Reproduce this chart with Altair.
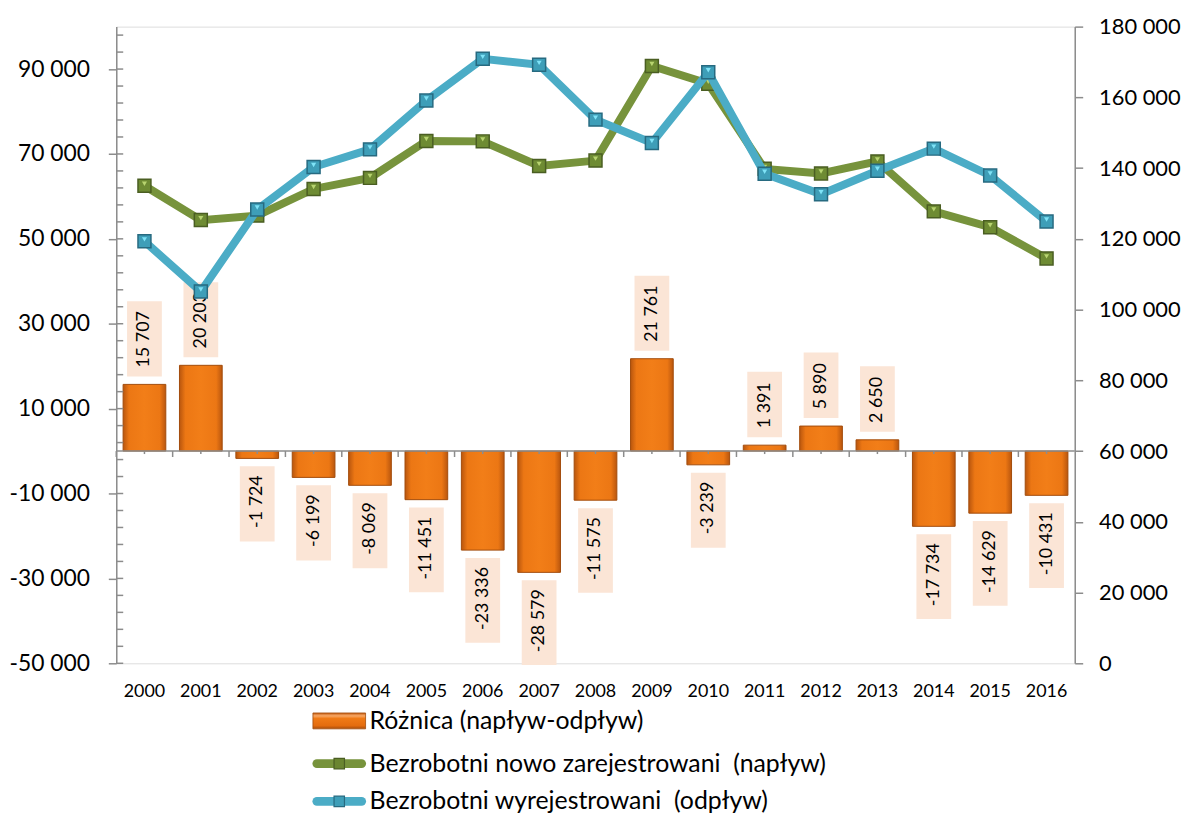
import altair as alt
import pandas as pd

# ---------------- data ----------------
years = ["2000", "2001", "2002", "2003", "2004", "2005", "2006", "2007", "2008",
         "2009", "2010", "2011", "2012", "2013", "2014", "2015", "2016"]
roznica = [15707, 20203, -1724, -6199, -8069, -11451, -23336, -28579, -11575,
           21761, -3239, 1391, 5890, 2650, -17734, -14629, -10431]
naplyw = [135007, 125303, 126576, 134101, 137231, 147649, 147564, 140621, 142125,
          168861, 163861, 139791, 138490, 141900, 127766, 123271, 114469]
odplyw = [119300, 105100, 128300, 140300, 145300, 159100, 170900, 169200, 153700,
          147100, 167100, 138400, 132600, 139250, 145500, 137900, 124900]

left_tick_values = [-50000, -30000, -10000, 10000, 30000, 50000, 70000, 90000]
left_minor_values = list(range(-50000, 100000, 4000))
right_tick_values = [0, 20000, 40000, 60000, 80000, 100000, 120000, 140000, 160000, 180000]

legend_labels = ["Różnica (napływ-odpływ)",
                 "Bezrobotni nowo zarejestrowani \u00a0(napływ)",
                 "Bezrobotni wyrejestrowani \u00a0(odpływ)"]

# ---------------- style ----------------
W, H = 965, 641
LEFT_DOMAIN = [-50000, 100000]
RIGHT_DOMAIN = [0, 180000]
PX = (LEFT_DOMAIN[1] - LEFT_DOMAIN[0]) / H
FONT = "Lato"
GREY = "#8C8C8C"
GREEN = "#77933C"
BLUE = "#4BACC6"
BOX = "#FBE5D6"

label_expr = "replace(replace(format(datum.value, ','), ',', ' '), '\u2212', '-')"
text_expr = "replace(replace(format(datum.roznica, ','), ',', ' '), '\u2212', '-')"

BAR_GRAD = {
    "gradient": "linear", "x1": 0, "x2": 1, "y1": 0, "y2": 0,
    "stops": [
        {"offset": 0, "color": "#B9560E"},
        {"offset": 0.14, "color": "#EC7714"},
        {"offset": 0.5, "color": "#F27E18"},
        {"offset": 0.86, "color": "#EC7714"},
        {"offset": 1, "color": "#B9560E"},
    ],
}
LEG_GRAD = {
    "gradient": "linear", "x1": 0, "x2": 0, "y1": 0, "y2": 1,
    "stops": [
        {"offset": 0, "color": "#C45A0F"},
        {"offset": 0.18, "color": "#F8A866"},
        {"offset": 0.35, "color": "#F07A16"},
        {"offset": 0.8, "color": "#E46C0E"},
        {"offset": 1, "color": "#A84C0A"},
    ],
}

df = pd.DataFrame({"year": years, "roznica": roznica, "naplyw": naplyw, "odplyw": odplyw})
one = pd.DataFrame({"a": [0]})
minor_df = pd.DataFrame({"v": left_minor_values})

XS = alt.Scale(type="band", paddingInner=0, paddingOuter=0)
XAXIS = alt.Axis(labelAngle=0, labelFont=FONT, labelFontSize=18, labelColor="#000000",
                 labelPadding=19, ticks=False, domain=False, grid=False, title=None)
LS = alt.Scale(domain=LEFT_DOMAIN, nice=False, zero=False)
LAXIS = alt.Axis(orient="left", values=left_tick_values, labelExpr=label_expr,
                 tickSize=8, tickColor=GREY, tickWidth=1.5, domainColor=GREY, domainWidth=1.5,
                 labelFont=FONT, labelFontSize=23, labelColor="#000000", labelPadding=19,
                 labelFlush=False, labelOverlap=False, grid=False, title=None)
RS = alt.Scale(domain=RIGHT_DOMAIN, nice=False, zero=False)
RAXIS = alt.Axis(orient="right", values=right_tick_values, labelExpr=label_expr,
                 tickSize=8, tickColor=GREY, tickWidth=1.5, domainColor=GREY, domainWidth=1.5,
                 labelFont=FONT, labelFontSize=22, labelColor="#000000", labelPadding=16,
                 labelFlush=False, labelOverlap=False, grid=False, title=None)


def xenc(band=None):
    if band is None:
        return alt.X("year:N", scale=XS, axis=XAXIS, sort=years)
    return alt.X("year:N", scale=XS, axis=XAXIS, sort=years, bandPosition=band)


base = alt.Chart(df)

bars = base.mark_bar(size=43, color=BAR_GRAD, stroke="#A24C0B", strokeWidth=1).encode(
    x=xenc(), y=alt.Y("roznica:Q", scale=LS, axis=LAXIS), y2=alt.Y2(datum=0))

boxes = (base.transform_calculate(label=text_expr)
         .transform_calculate(sgn="datum.roznica >= 0 ? 1 : -1")
         .transform_calculate(b0=f"datum.roznica + datum.sgn * 8 * {PX}")
         .transform_calculate(b1=f"datum.b0 + datum.sgn * (length(datum.label) * 9.6 + 18) * {PX}")
         .mark_bar(size=35, color=BOX)
         .encode(x=xenc(), y=alt.Y("b0:Q", scale=LS, axis=LAXIS), y2="b1:Q"))

texts_pos = (base.transform_calculate(label=text_expr)
             .transform_filter("datum.roznica >= 0")
             .mark_text(angle=270, align="left", baseline="middle", dx=17, font=FONT,
                        fontSize=18, color="#000000")
             .encode(x=xenc(), y=alt.Y("roznica:Q", scale=LS, axis=LAXIS), text="label:N"))
texts_neg = (base.transform_calculate(label=text_expr)
             .transform_filter("datum.roznica < 0")
             .mark_text(angle=270, align="right", baseline="middle", dx=-17, font=FONT,
                        fontSize=18, color="#000000")
             .encode(x=xenc(), y=alt.Y("roznica:Q", scale=LS, axis=LAXIS), text="label:N"))

zero_line = alt.Chart(one).mark_rule(color=GREY, strokeWidth=1.5).encode(
    x=alt.value(0), x2=alt.value(W), y=alt.Y(datum=0, scale=LS, axis=LAXIS))
bound_ticks = base.mark_rule(color=GREY, strokeWidth=1.5, y2Offset=6).encode(
    x=xenc(0), y=alt.Y(datum=0, scale=LS, axis=LAXIS), y2=alt.Y2(datum=0))
center_ticks = base.mark_rule(color=GREY, strokeWidth=1.5, y2Offset=3).encode(
    x=xenc(0.5), y=alt.Y(datum=0, scale=LS, axis=LAXIS), y2=alt.Y2(datum=0))
inner_ticks = alt.Chart(minor_df).mark_rule(color=GREY, strokeWidth=1.5).encode(
    x=alt.value(0), x2=alt.value(7), y=alt.Y("v:Q", scale=LS, axis=LAXIS))

# ---- legend (drawn below the plot) ----
LX0, LX1, LTX = 198, 251, 255
LY = [699, 742, 780]
leg_rect = alt.Chart(one).mark_rect(color=LEG_GRAD, stroke="#A24C0B", strokeWidth=0.8).encode(
    x=alt.value(LX0), x2=alt.value(LX1), y=alt.value(LY[0] - 8), y2=alt.value(LY[0] + 8))
leg_line_g = alt.Chart(one).mark_rule(color=GREEN, strokeWidth=9, strokeCap="round").encode(
    x=alt.value(LX0 + 4), x2=alt.value(LX1 - 4), y=alt.value(LY[1]))
leg_pt_g = alt.Chart(one).mark_point(shape="square", size=110, filled=True, fill="#6A8530",
                                     stroke="#4A5E22", strokeWidth=1.2, opacity=1).encode(
    x=alt.value((LX0 + LX1) / 2), y=alt.value(LY[1]))
leg_line_b = alt.Chart(one).mark_rule(color=BLUE, strokeWidth=9, strokeCap="round").encode(
    x=alt.value(LX0 + 4), x2=alt.value(LX1 - 4), y=alt.value(LY[2]))
leg_pt_b = alt.Chart(one).mark_point(shape="square", size=110, filled=True, fill="#3E9EB8",
                                     stroke="#276A80", strokeWidth=1.2, opacity=1).encode(
    x=alt.value((LX0 + LX1) / 2), y=alt.value(LY[2]))
leg_texts = [
    alt.Chart(one).mark_text(align="left", baseline="middle", font=FONT, fontSize=25,
                             color="#000000").encode(
        x=alt.value(LTX), y=alt.value(LY[i]), text=alt.value(legend_labels[i]))
    for i in range(3)
]

left_group = alt.layer(bars, boxes, texts_pos, texts_neg, zero_line, bound_ticks,
                       center_ticks, inner_ticks, leg_rect, leg_line_g, leg_pt_g,
                       leg_line_b, leg_pt_b, *leg_texts)

# ---- lines on the right axis ----
line_g = base.mark_line(color=GREEN, strokeWidth=8).encode(
    x=xenc(), y=alt.Y("naplyw:Q", scale=RS, axis=RAXIS))
pts_g = base.mark_point(shape="square", size=170, filled=True, fill="#6E8B33",
                        stroke="#4A5E22", strokeWidth=1.5, opacity=1).encode(
    x=xenc(), y=alt.Y("naplyw:Q", scale=RS, axis=RAXIS))
tri_g = base.mark_point(shape="triangle-down", size=26, filled=True, color="#B8D470",
                        opacity=1, yOffset=-2).encode(
    x=xenc(), y=alt.Y("naplyw:Q", scale=RS, axis=RAXIS))
line_b = base.mark_line(color=BLUE, strokeWidth=8).encode(
    x=xenc(), y=alt.Y("odplyw:Q", scale=RS, axis=RAXIS))
pts_b = base.mark_point(shape="square", size=170, filled=True, fill="#3E9EB8",
                        stroke="#276A80", strokeWidth=1.5, opacity=1).encode(
    x=xenc(), y=alt.Y("odplyw:Q", scale=RS, axis=RAXIS))
tri_b = base.mark_point(shape="triangle-down", size=26, filled=True, color="#7FE3F7",
                        opacity=1, yOffset=-2).encode(
    x=xenc(), y=alt.Y("odplyw:Q", scale=RS, axis=RAXIS))

right_group = alt.layer(line_g, pts_g, tri_g, line_b, pts_b, tri_b)

chart = (
    alt.layer(left_group, right_group)
    .resolve_scale(y="independent")
    .properties(width=W, height=H,
                autosize=alt.AutoSizeParams(type="none"),
                padding={"left": 109, "top": 16, "right": 111, "bottom": 151})
    .configure_view(stroke=None)
    .configure(background="white")
)

chart.save("out.html", embed_options={"renderer": "svg", "actions": False})
